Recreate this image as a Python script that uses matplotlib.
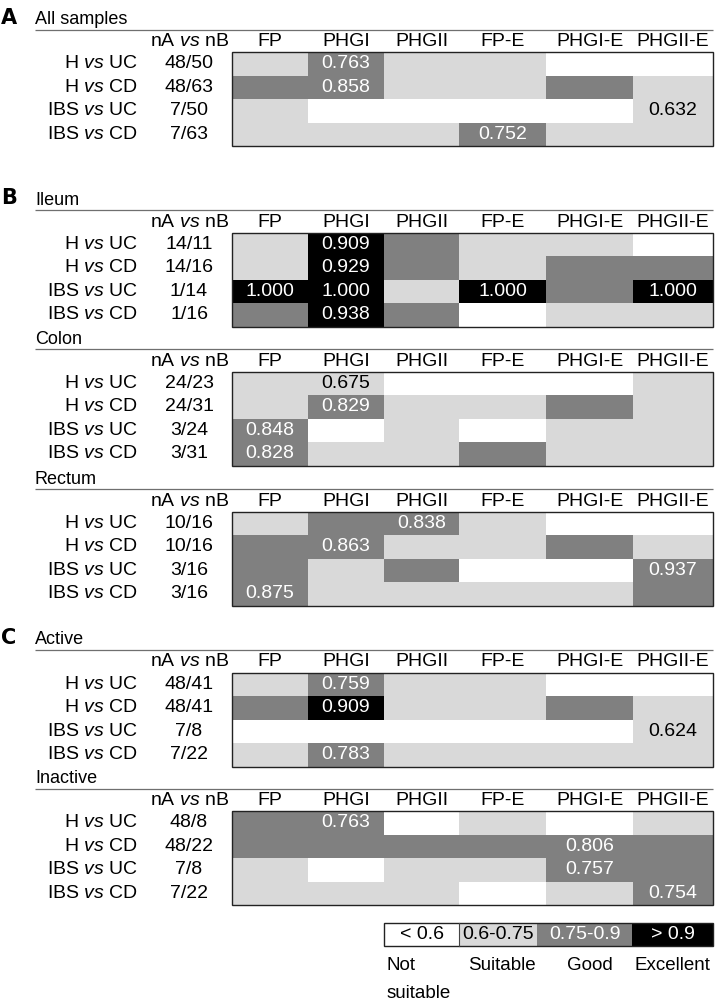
import numpy as np
import matplotlib; matplotlib.use("Agg")
import matplotlib.pyplot as plt
from matplotlib.colors import ListedColormap, BoundaryNorm
from matplotlib.patches import Rectangle

FONT = "Liberation Sans"
plt.rcParams.update({"font.family": FONT, "font.size": 14,
                     "mathtext.fontset": "custom",
                     "mathtext.rm": FONT, "mathtext.it": FONT + ":italic"})

WHITE = "#ffffff"; LIGHT = "#d9d9d9"; MID = "#808080"; BLACK = "#000000"
GRADE_COL = [WHITE, LIGHT, MID, BLACK]
cmap = ListedColormap(GRADE_COL)
norm = BoundaryNorm([-0.5, 0.5, 1.5, 2.5, 3.5], 4)

METHODS = ["FP", "PHGI", "PHGII", "FP-E", "PHGI-E", "PHGII-E"]
PAIRS = [("H", "UC"), ("H", "CD"), ("IBS", "UC"), ("IBS", "CD")]
# grade per cell: 0 = <0.6, 1 = 0.6-0.75, 2 = 0.75-0.9, 3 = >0.9
all_n = ["48/50", "48/63", "7/50", "7/63"]
all_grade = [[1, 2, 1, 1, 0, 0], [2, 2, 1, 1, 2, 1], [1, 0, 0, 0, 0, 1], [1, 1, 1, 2, 1, 1]]
all_auc = [["", "0.763", "", "", "", ""], ["", "0.858", "", "", "", ""],
           ["", "", "", "", "", "0.632"], ["", "", "", "0.752", "", ""]]

ileum_n = ["14/11", "14/16", "1/14", "1/16"]
ileum_grade = [[1, 3, 2, 1, 1, 0], [1, 3, 2, 1, 2, 2], [3, 3, 1, 3, 2, 3], [2, 3, 2, 0, 1, 1]]
ileum_auc = [["", "0.909", "", "", "", ""], ["", "0.929", "", "", "", ""],
             ["1.000", "1.000", "", "1.000", "", "1.000"], ["", "0.938", "", "", "", ""]]

colon_n = ["24/23", "24/31", "3/24", "3/31"]
colon_grade = [[1, 1, 0, 0, 0, 1], [1, 2, 1, 1, 2, 1], [2, 0, 1, 0, 1, 1], [2, 1, 1, 2, 1, 1]]
colon_auc = [["", "0.675", "", "", "", ""], ["", "0.829", "", "", "", ""],
             ["0.848", "", "", "", "", ""], ["0.828", "", "", "", "", ""]]

rectum_n = ["10/16", "10/16", "3/16", "3/16"]
rectum_grade = [[1, 2, 2, 1, 0, 0], [2, 2, 1, 1, 2, 1], [2, 1, 2, 0, 0, 2], [2, 1, 1, 1, 1, 2]]
rectum_auc = [["", "", "0.838", "", "", ""], ["", "0.863", "", "", "", ""],
              ["", "", "", "", "", "0.937"], ["0.875", "", "", "", "", ""]]

active_n = ["48/41", "48/41", "7/8", "7/22"]
active_grade = [[1, 2, 1, 1, 0, 0], [2, 3, 1, 1, 2, 1], [0, 0, 0, 0, 0, 1], [1, 2, 1, 1, 1, 1]]
active_auc = [["", "0.759", "", "", "", ""], ["", "0.909", "", "", "", ""],
              ["", "", "", "", "", "0.624"], ["", "0.783", "", "", "", ""]]

inactive_n = ["48/8", "48/22", "7/8", "7/22"]
inactive_grade = [[2, 2, 0, 1, 0, 1], [2, 2, 2, 2, 2, 2], [1, 0, 1, 1, 2, 2], [1, 1, 1, 0, 1, 2]]
inactive_auc = [["", "0.763", "", "", "", ""], ["", "", "", "", "0.806", ""],
                ["", "", "", "", "0.757", ""], ["", "", "", "", "", "0.754"]]

LEG_LABELS = ["< 0.6", "0.6-0.75", "0.75-0.9", "> 0.9"]
LEG_NAMES = ["Not\nsuitable", "Suitable", "Good", "Excellent"]

# layout in pixels (figure is 726 x 1006)
COL_EDGES = np.array([232, 308, 384, 459, 546, 633, 713])
ROW_H = 23.5
PANELS = [("A", "All samples", 29.5, all_n, all_grade, all_auc),
          ("B", "Ileum", 210, ileum_n, ileum_grade, ileum_auc),
          (None, "Colon", 349, colon_n, colon_grade, colon_auc),
          (None, "Rectum", 489, rectum_n, rectum_grade, rectum_auc),
          ("C", "Active", 650, active_n, active_grade, active_auc),
          (None, "Inactive", 788.5, inactive_n, inactive_grade, inactive_auc)]

fig = plt.figure(figsize=(7.26, 10.06), dpi=100)
ax = fig.add_axes([0, 0, 1, 1])
ax.set_xlim(0, 726); ax.set_ylim(1006, 0); ax.axis("off")

for letter, title, uy, nvals, grade, auc in PANELS:
    if letter:
        ax.text(1, uy - 12, letter, fontsize=15, fontweight="bold", family="DejaVu Sans",
                ha="left", va="center")
    ax.text(35, uy - 10, title, fontsize=13, ha="left", va="center")
    ax.plot([35, COL_EDGES[-1]], [uy, uy], color="#6f6f6f", lw=0.9, solid_capstyle="butt")
    hy = uy + 12
    ax.text(190, hy, r"nA $\mathit{vs}$ nB", ha="center", va="center")
    for j, m in enumerate(METHODS):
        ax.text((COL_EDGES[j] + COL_EDGES[j + 1]) / 2, hy, m, ha="center", va="center")
    top = uy + 22.5
    yedges = top + np.arange(len(PAIRS) + 1) * ROW_H
    g = np.array(grade)
    ax.pcolormesh(COL_EDGES, yedges, g, cmap=cmap, norm=norm, edgecolors="none")
    ax.add_patch(Rectangle((COL_EDGES[0], yedges[0]), COL_EDGES[-1] - COL_EDGES[0],
                           yedges[-1] - yedges[0], fill=False, ec="#222222", lw=1.0))
    for i, (a, b) in enumerate(PAIRS):
        cy = (yedges[i] + yedges[i + 1]) / 2
        ax.text(138, cy, rf"{a} $\mathit{{vs}}$ {b}", ha="right", va="center")
        ax.text(189, cy, nvals[i], ha="center", va="center")
        for j in range(len(METHODS)):
            if auc[i][j]:
                ax.text((COL_EDGES[j] + COL_EDGES[j + 1]) / 2, cy, auc[i][j], ha="center", va="center",
                        color="white" if g[i, j] >= 2 else "black")

# legend strip
LEG_EDGES = np.array([384, 459, 537, 632, 713])
LEG_Y = np.array([923, 946])
ax.pcolormesh(LEG_EDGES, LEG_Y, np.array([[0, 1, 2, 3]]), cmap=cmap, norm=norm, edgecolors="none")
ax.add_patch(Rectangle((LEG_EDGES[0], LEG_Y[0]), LEG_EDGES[-1] - LEG_EDGES[0], LEG_Y[1] - LEG_Y[0],
                       fill=False, ec="#222222", lw=1.0))
ax.plot([LEG_EDGES[1]] * 2, LEG_Y, color="#444444", lw=0.8)
for k, lab in enumerate(LEG_LABELS):
    ax.text((LEG_EDGES[k] + LEG_EDGES[k + 1]) / 2, LEG_Y.mean(), lab,
            fontsize=14, ha="center", va="center", color="white" if k >= 2 else "black")
ax.text(LEG_EDGES[0] + 3, 966, "Not", fontsize=13.5, ha="left", va="center")
ax.text(LEG_EDGES[0] + 3, 994, "suitable", fontsize=13.5, ha="left", va="center")
NAME_X = [502, 590, 672]
for k in range(1, 4):
    ax.text(NAME_X[k - 1], 966, LEG_NAMES[k], fontsize=13.5, ha="center", va="center")

fig.savefig("out.png", dpi=100)
plt.close(fig)
